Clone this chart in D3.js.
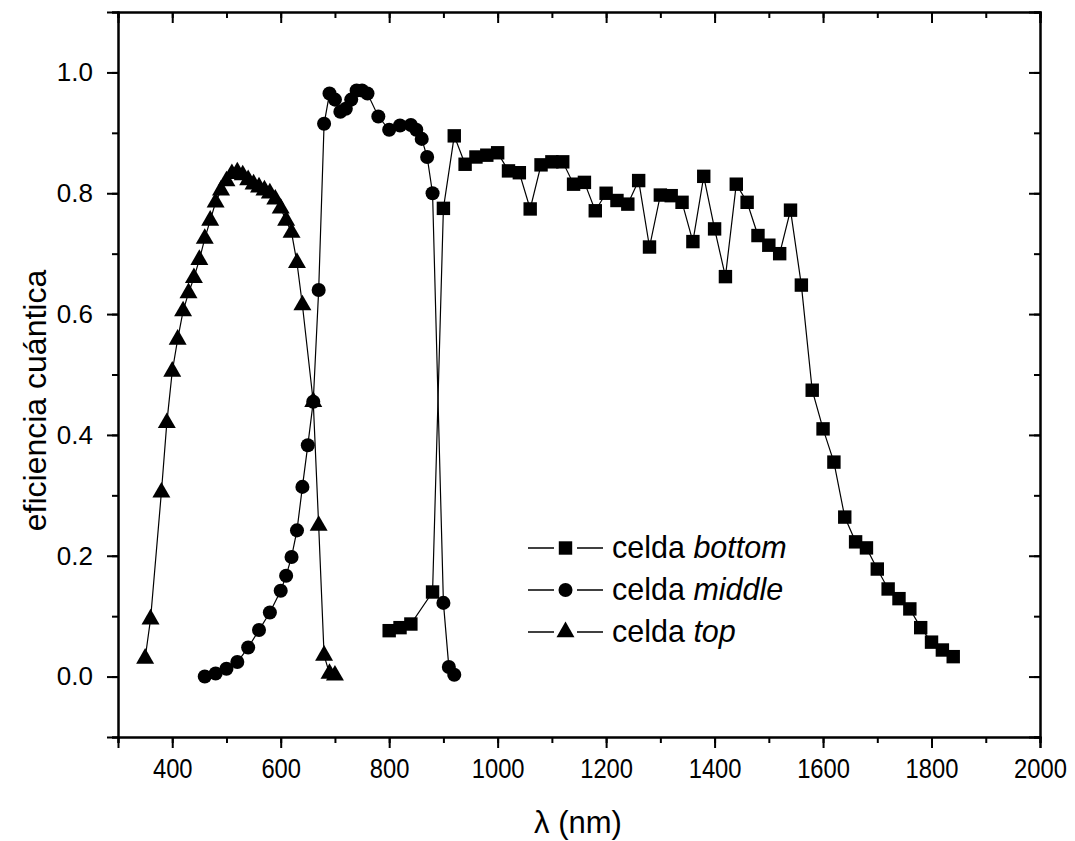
<!DOCTYPE html>
<html>
<head>
<meta charset="utf-8">
<script src="https://cdn.jsdelivr.net/npm/d3@7"></script>
<style>
  html, body { margin: 0; padding: 0; background: #fff; }
  svg { display: block; font-family: "Liberation Sans", Arial, sans-serif; }
</style>
</head>
<body>
<svg id="chart" width="1075" height="841"></svg>
<script>
// Quantum efficiency of the three sub-cells (wavelength in nm)
const topWl = [350, 360, 380, 390, 400, 410, 420, 430, 440, 450, 460, 470, 480, 490, 500, 510, 520, 530, 540, 550, 560, 570, 580, 590, 600, 610, 620, 630, 640, 660, 670, 680, 690, 700];
const topQE = [0.03, 0.095, 0.305, 0.42, 0.505, 0.558, 0.605, 0.635, 0.66, 0.69, 0.725, 0.755, 0.785, 0.805, 0.82, 0.832, 0.835, 0.83, 0.822, 0.815, 0.81, 0.805, 0.80, 0.79, 0.775, 0.755, 0.735, 0.685, 0.615, 0.455, 0.25, 0.035, 0.005, 0.002];

const middleWl = [460, 480, 500, 520, 540, 560, 580, 600, 610, 620, 630, 640, 650, 660, 670, 680, 690, 700, 710, 720, 730, 740, 750, 760, 780, 800, 820, 840, 850, 860, 870, 880, 900, 910, 920];
const middleQE = [0.0, 0.005, 0.013, 0.024, 0.048, 0.077, 0.106, 0.142, 0.167, 0.198, 0.242, 0.314, 0.383, 0.455, 0.64, 0.915, 0.965, 0.955, 0.935, 0.94, 0.955, 0.97, 0.97, 0.965, 0.927, 0.905, 0.912, 0.913, 0.905, 0.89, 0.86, 0.80, 0.122, 0.016, 0.003];

const bottomWl = [800, 820, 840, 880, 900, 920, 940, 960, 980, 1000, 1020, 1040, 1060, 1080, 1100, 1120, 1140, 1160, 1180, 1200, 1220, 1240, 1260, 1280, 1300, 1320, 1340, 1360, 1380, 1400, 1420, 1440, 1460, 1480, 1500, 1520, 1540, 1560, 1580, 1600, 1620, 1640, 1660, 1680, 1700, 1720, 1740, 1760, 1780, 1800, 1820, 1840];
const bottomQE = [0.076, 0.081, 0.087, 0.14, 0.775, 0.895, 0.848, 0.86, 0.863, 0.867, 0.837, 0.834, 0.774, 0.847, 0.852, 0.852, 0.815, 0.818, 0.771, 0.80, 0.788, 0.782, 0.821, 0.711, 0.797, 0.796, 0.785, 0.72, 0.828, 0.741, 0.662, 0.815, 0.785, 0.73, 0.714, 0.70, 0.772, 0.648, 0.474, 0.41, 0.355, 0.264, 0.223, 0.213, 0.178, 0.145, 0.129, 0.112, 0.081, 0.057, 0.044, 0.033];

const xTicks = [400, 600, 800, 1000, 1200, 1400, 1600, 1800, 2000];
const yTicks = [0.0, 0.2, 0.4, 0.6, 0.8, 1.0];

const seriesNames = ["bottom", "middle", "top"];

const svg = d3.select("#chart");
const m = { left: 118, right: 1040, top: 12, bottom: 737 };

const x = d3.scaleLinear().domain([300, 2000]).range([m.left, m.right]);
const y = d3.scaleLinear().domain([-0.1, 1.1]).range([m.bottom, m.top]);

const series = [
  { name: seriesNames[0], wl: bottomWl, qe: bottomQE, symbol: d3.symbolSquare, size: 180 },
  { name: seriesNames[1], wl: middleWl, qe: middleQE, symbol: d3.symbolCircle, size: 155 },
  { name: seriesNames[2], wl: topWl, qe: topQE, symbol: d3.symbolTriangle, size: 140 }
];

// Axes: bottom/left ticks point outward, top/right ticks point inward
const minorX = d3.range(300, 2001, 100);
const minorY = d3.range(-0.1, 1.11, 0.1).map(v => +v.toFixed(2));

function styleAxis(g) {
  g.select(".domain").attr("stroke", "#000").attr("stroke-width", 2);
  g.selectAll(".tick line").attr("stroke", "#000").attr("stroke-width", 2);
}

// minor ticks
svg.append("g").attr("transform", `translate(0,${m.bottom})`)
  .call(d3.axisBottom(x).tickValues(minorX).tickSize(6).tickFormat(""))
  .call(styleAxis);
svg.append("g").attr("transform", `translate(${m.left},0)`)
  .call(d3.axisLeft(y).tickValues(minorY).tickSize(6).tickFormat(""))
  .call(styleAxis);
svg.append("g").attr("transform", `translate(0,${m.top})`)
  .call(d3.axisBottom(x).tickValues(minorX).tickSize(6).tickFormat(""))
  .call(styleAxis);
svg.append("g").attr("transform", `translate(${m.right},0)`)
  .call(d3.axisLeft(y).tickValues(minorY).tickSize(6).tickFormat(""))
  .call(styleAxis);

// major ticks with labels
const xAxis = svg.append("g").attr("transform", `translate(0,${m.bottom})`)
  .call(d3.axisBottom(x).tickValues(xTicks).tickSize(11).tickPadding(11).tickFormat(d3.format("d")))
  .call(styleAxis);
xAxis.selectAll("text")
  .attr("font-size", 27)
  .attr("fill", "#000")
  .attr("transform", "scale(0.88,1)");

const yAxis = svg.append("g").attr("transform", `translate(${m.left},0)`)
  .call(d3.axisLeft(y).tickValues(yTicks).tickSize(11).tickPadding(14).tickFormat(d3.format(".1f")))
  .call(styleAxis);
yAxis.selectAll("text").attr("font-size", 26).attr("fill", "#000");

svg.append("g").attr("transform", `translate(0,${m.top})`)
  .call(d3.axisBottom(x).tickValues(xTicks).tickSize(11).tickFormat(""))
  .call(styleAxis);
svg.append("g").attr("transform", `translate(${m.right},0)`)
  .call(d3.axisLeft(y).tickValues(yTicks).tickSize(11).tickFormat(""))
  .call(styleAxis);

// Axis titles
svg.append("text")
  .attr("x", 578).attr("y", 833)
  .attr("text-anchor", "middle").attr("font-size", 31)
  .text("λ (nm)");
svg.append("text")
  .attr("transform", `translate(46,${(m.top + m.bottom) / 2 + 26}) rotate(-90)`)
  .attr("text-anchor", "middle").attr("font-size", 32)
  .text("eficiencia cuántica");

// Lines and markers
const line = d3.line().x(d => x(d[0])).y(d => y(d[1]));
const plot = svg.append("g");

series.forEach(s => {
  const pts = s.wl.map((w, i) => [w, s.qe[i]]);
  plot.append("path")
    .datum(pts)
    .attr("d", line)
    .attr("fill", "none")
    .attr("stroke", "#000")
    .attr("stroke-width", 1.2);
  plot.selectAll(null)
    .data(pts)
    .enter().append("path")
    .attr("d", d3.symbol().type(s.symbol).size(s.size))
    .attr("transform", d => `translate(${x(d[0])},${y(d[1])})`)
    .attr("fill", "#000");
});

// Legend
const legend = svg.append("g");
const legendRows = [548, 590, 632];
series.forEach((s, i) => {
  const ly = legendRows[i];
  legend.append("line").attr("x1", 528).attr("x2", 554).attr("y1", ly).attr("y2", ly)
    .attr("stroke", "#000").attr("stroke-width", 1.5);
  legend.append("line").attr("x1", 577).attr("x2", 603).attr("y1", ly).attr("y2", ly)
    .attr("stroke", "#000").attr("stroke-width", 1.5);
  legend.append("path")
    .attr("d", d3.symbol().type(s.symbol).size(s.size))
    .attr("transform", `translate(565.5,${ly})`)
    .attr("fill", "#000");
  const t = legend.append("text").attr("x", 612).attr("y", ly + 10).attr("font-size", 30.5);
  t.append("tspan").text("celda ");
  t.append("tspan").attr("font-style", "italic").text(s.name);
});
</script>
</body>
</html>
